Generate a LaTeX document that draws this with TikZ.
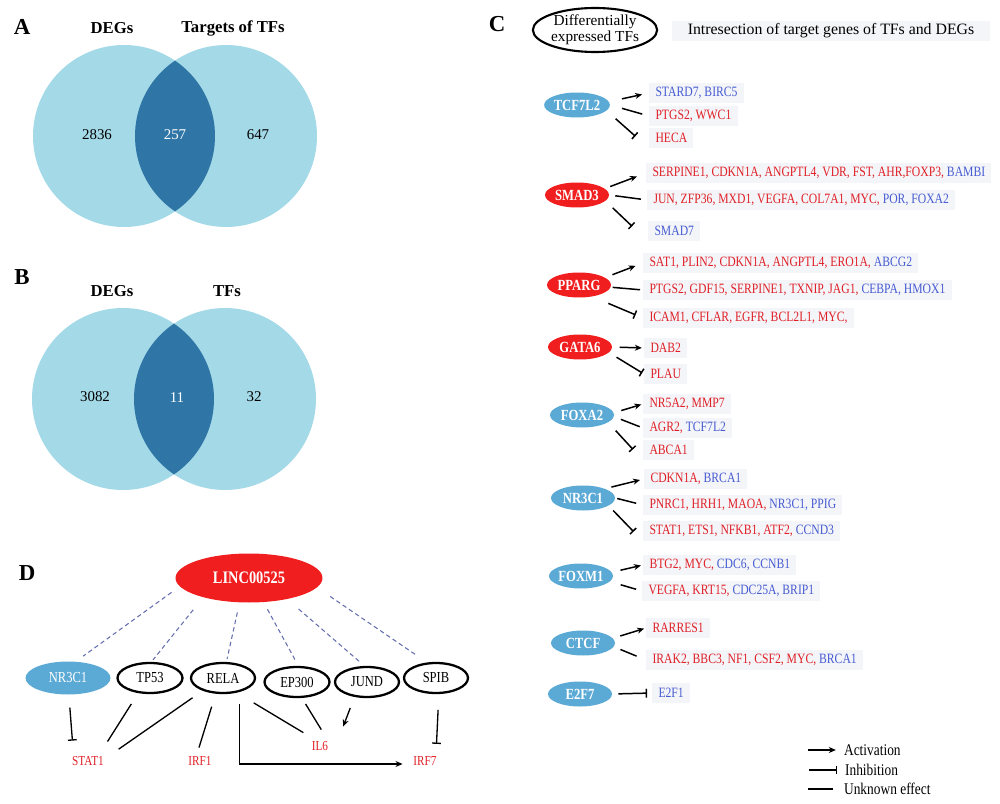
\documentclass[tikz,border=0pt]{standalone}
\usepackage{fontspec}
\setmainfont{Liberation Serif}
\newfontfamily\gfont[FakeStretch=0.82]{Liberation Serif}
\usetikzlibrary{arrows.meta,shapes.geometric}

\definecolor{venlight}{RGB}{164,217,231}
\definecolor{vendark}{RGB}{47,117,166}
\definecolor{tfblue}{RGB}{91,169,213}
\definecolor{tfred}{RGB}{240,30,30}
\definecolor{genered}{RGB}{224,32,40}
\definecolor{geneblue}{RGB}{72,92,210}
\definecolor{boxgray}{RGB}{243,245,248}
\definecolor{dashblue}{RGB}{100,110,175}

\newcommand{\bluegene}[1]{\textcolor{geneblue}{#1}}

\tikzset{
  panel/.style={font=\bfseries\fontsize{13}{13}\selectfont},
  venntitle/.style={font=\bfseries\fontsize{9.5}{9.5}\selectfont},
  vennnum/.style={font=\fontsize{8.5}{8.5}\selectfont},
  tf/.style={ellipse, inner sep=0pt, minimum width=1.28cm, minimum height=0.5cm,
    text=white, font=\gfont\bfseries\fontsize{8.8}{8.8}\selectfont},
  tfb/.style={tf, fill=tfblue},
  tfr/.style={tf, fill=tfred},
  target/.style={anchor=west, fill=boxgray, inner xsep=3.5pt, inner ysep=1pt,
    minimum height=0.4cm, text=genered, font=\gfont\fontsize{8.1}{8.1}\selectfont},
  act/.style={-{Stealth[length=4pt,width=3.4pt]}, line width=0.85pt},
  inh/.style={-{Bar[width=5pt]}, line width=0.85pt},
  unk/.style={line width=0.85pt},
  dline/.style={line width=0.75pt},
  dnode/.style={ellipse, draw, line width=1.3pt, inner sep=0pt, minimum width=1.28cm,
    minimum height=0.6cm, font=\gfont\fontsize{8.7}{8.7}\selectfont},
  dgene/.style={inner sep=2pt, text=genered, font=\gfont\fontsize{7.8}{7.8}\selectfont},
  link/.style={dashblue, line width=0.6pt, dash pattern=on 2.5pt off 1.8pt},
  legtext/.style={anchor=west, inner sep=1pt, font=\gfont\fontsize{9.3}{9.3}\selectfont},
}

\begin{document}
\begin{tikzpicture}[x=0.02cm, y=-0.02cm]
\useasboundingbox (0,0) rectangle (1000,804);

% A: DEGs and targets of TFs
\fill[venlight] (124,136) circle[radius=91];
\fill[venlight] (226,136) circle[radius=91];
\begin{scope}
  \clip (124,136) circle[radius=91];
  \fill[vendark] (226,136) circle[radius=91];
\end{scope}
\node[panel] (labA) at (22,27) {A};
\node[venntitle] (degA) at (112,28) {DEGs};
\node[venntitle] (tgtA) at (233,28) {Targets of TFs};
\node[vennnum] (numA1) at (97,135) {2836};
\node[vennnum, text=white] (numA2) at (175,135) {257};
\node[vennnum] (numA3) at (258,135) {647};

% B: DEGs and TFs
\fill[venlight] (123,399) circle[radius=91];
\fill[venlight] (225,399) circle[radius=91];
\begin{scope}
  \clip (123,399) circle[radius=91];
  \fill[vendark] (225,399) circle[radius=91];
\end{scope}
\node[panel] (labB) at (22,277) {B};
\node[venntitle] (degB) at (112,291) {DEGs};
\node[venntitle] (tfB) at (227,291) {TFs};
\node[vennnum] (numB1) at (95,397) {3082};
\node[vennnum, text=white] (numB2) at (177,398) {11};
\node[vennnum] (numB3) at (254,397) {32};

% C: TFs and their targets
\node[panel] (labC) at (497,24) {C};
\node[draw, ellipse, line width=1.2pt, minimum width=2.48cm, minimum height=0.88cm,
  inner sep=0pt, align=center, font=\fontsize{8.7}{7}\selectfont] (hdrtf) at (595,30)
  {Differentially\\expressed TFs};
\node[fill=boxgray, minimum width=6.38cm, minimum height=0.4cm, inner sep=0pt,
  font=\fontsize{9}{9}\selectfont] (hdrbox) at (831,31)
  {Intresection of target genes of TFs and DEGs};

\node[tfb] (tcf) at (577,105) {TCF7L2};
\node[target, text=geneblue] (tcf-1) at (649,93) {STARD7, BIRC5};
\node[target] (tcf-2) at (649,116) {PTGS2, WWC1};
\node[target] (tcf-3) at (649,138) {HECA};
\draw[act, shorten <=7.5pt, shorten >=4pt] (tcf.6) -- (tcf-1.west);
\draw[unk, shorten <=7pt, shorten >=4pt] (tcf.east) -- (tcf-2.west);
\draw[inh, shorten <=6.8pt, shorten >=10.4pt] (tcf.349) -- (tcf-3.south west);

\node[tfr] (smad) at (577,195) {SMAD3};
\node[target] (smad-1) at (646,173) {SERPINE1, CDKN1A, ANGPTL4, VDR, FST, AHR,FOXP3, \bluegene{BAMBI}};
\node[target] (smad-2) at (647,200) {JUN, ZFP36, MXD1, VEGFA, COL7A1, MYC, \bluegene{POR, FOXA2}};
\node[target, text=geneblue] (smad-3) at (648,231) {SMAD7};
\draw[act, shorten <=3.2pt, shorten >=5.5pt] (smad.13) -- (smad-1.west);
\draw[unk, shorten <=3.4pt, shorten >=3.5pt] (smad.east) -- (smad-2.west);
\draw[inh, shorten <=5.6pt, shorten >=12.5pt] (smad.348) -- (smad-3.south west);

\node[tfr] (pparg) at (579,285) {PPARG};
\node[target] (pparg-1) at (643,263) {SAT1, PLIN2, CDKN1A, ANGPTL4, ERO1A, \bluegene{ABCG2}};
\node[target] (pparg-2) at (643,290) {PTGS2, GDF15, SERPINE1, TXNIP, JAG1, \bluegene{CEBPA, HMOX1}};
\node[target] (pparg-3) at (643,318) {ICAM1, CFLAR, EGFR, BCL2L1, MYC,};
\draw[act, shorten <=4.4pt, shorten >=4.5pt] (pparg.16) -- (pparg-1.west);
\draw[unk, shorten <=1pt, shorten >=1.7pt] (pparg.-4) -- (pparg-2.west);
\draw[inh, shorten <=9.8pt, shorten >=4.6pt] (pparg.319) -- (pparg-3.west);

\node[tfr] (gata) at (580,347) {GATA6};
\node[target] (gata-1) at (644,348) {DAB2};
\node[target] (gata-2) at (644,374) {PLAU};
\draw[act, shorten <=4.2pt, shorten >=1.2pt] (gata.east) -- (gata-1.west);
\draw[inh, shorten <=5pt, shorten >=1.2pt] (gata.349) -- (gata-2.west);

\node[tfb] (foxa) at (582,415) {FOXA2};
\node[target] (foxa-1) at (643,404) {NR5A2, MMP7};
\node[target] (foxa-2) at (643,428) {AGR2, \bluegene{TCF7L2}};
\node[target] (foxa-3) at (643,450) {ABCA1};
\draw[act, shorten <=4.4pt, shorten >=1pt] (foxa.4) -- (foxa-1.west);
\draw[unk, shorten <=4.1pt, shorten >=2pt] (foxa.-3) -- (foxa-2.west);
\draw[inh, shorten <=6.3pt, shorten >=8.5pt] (foxa.344) -- (foxa-3.south west);

\node[tfb] (nrc) at (583,498) {NR3C1};
\node[target] (nrc-1) at (644,479) {CDKN1A, \bluegene{BRCA1}};
\node[target] (nrc-2) at (643,505) {PNRC1, HRH1, MAOA, \bluegene{NR3C1, PPIG}};
\node[target] (nrc-3) at (643,531) {STAT1, ETS1, NFKB1, ATF2, \bluegene{CCND3}};
\draw[act, shorten <=3.7pt, shorten >=2.3pt] (nrc.23) -- (nrc-1.west);
\draw[unk, shorten <=1.1pt, shorten >=4pt] (nrc.east) -- (nrc-2.west);
\draw[inh, shorten <=3.7pt, shorten >=7.7pt] (nrc.343) -- (nrc-3.south west);

\node[tfb] (foxm) at (581,576) {FOXM1};
\node[target] (foxm-1) at (643,565) {BTG2, MYC, \bluegene{CDC6, CCNB1}};
\node[target] (foxm-2) at (642,591) {VEGFA, KRT15, \bluegene{CDC25A, BRIP1}};
\draw[act, shorten <=5pt, shorten >=1.2pt] (foxm.7) -- (foxm-1.west);
\draw[unk, shorten <=6.3pt, shorten >=3.5pt] (foxm.349) -- (foxm-2.west);

\node[tfb] (ctcf) at (583,643) {CTCF};
\node[target] (ctcf-1) at (646,628) {RARRES1};
\node[target] (ctcf-2) at (646,660) {IRAK2, BBC3, NF1, CSF2, MYC, \bluegene{BRCA1}};
\draw[act, shorten <=4.3pt, shorten >=1.1pt] (ctcf.9) -- (ctcf-1.west);
\draw[unk, shorten <=4pt, shorten >=5.8pt] (ctcf.353) -- (ctcf-2.west);

\node[tfb] (e2f) at (580,694) {E2F7};
\node[target, text=geneblue] (e2f-1) at (652,693) {E2F1};
\draw[inh, shorten <=3.4pt, shorten >=2.8pt] (e2f.east) -- (e2f-1.west);

% legend
\node[legtext] (legact) at (842,750) {Activation};
\node[legtext] (leginh) at (843,770) {Inhibition};
\node[legtext] (legunk) at (842,789) {Unknown effect};
\coordinate (legA) at (808,750);
\coordinate (legI) at (809,770);
\coordinate (legU) at (808,789);
\draw[act, shorten >=3.5pt] (legA) -- (legact.west);
\draw[inh, shorten >=3.4pt] (legI) -- (leginh.west);
\draw[unk, shorten >=5pt] (legU) -- (legunk.west);

% D: LINC00525 network
\node[panel] (labD) at (27,573) {D};
\node[ellipse, fill=tfred, minimum width=2.94cm, minimum height=0.98cm, text=white,
  font=\gfont\bfseries\fontsize{10}{10}\selectfont] (linc) at (249,578) {LINC00525};
\node[dnode, draw=none, fill=tfblue, text=white, minimum width=1.7cm,
  minimum height=0.66cm] (nrd) at (68,678) {NR3C1};
\node[dnode, minimum width=1.3cm] (tp53) at (150,678) {TP53};
\node[dnode] (rela) at (223,678) {RELA};
\node[dnode, minimum width=1.3cm] (ep300) at (297,682) {EP300};
\node[dnode] (jund) at (367,682) {JUND};
\node[dnode] (spib) at (436,678) {SPIB};

\node[dgene] (stat1) at (88,761) {STAT1};
\node[dgene] (irf1) at (200,761) {IRF1};
\node[dgene] (il6) at (320,746) {IL6};
\node[dgene] (irf7) at (425,761) {IRF7};

\draw[link, shorten <=5.7pt, shorten >=4.5pt] (linc.187) -- (nrd.63);
\draw[link, shorten <=9pt, shorten >=1.5pt] (linc.203) -- (tp53.85);
\draw[link, shorten <=5.7pt, shorten >=1.7pt] (linc.249) -- (rela.78);
\draw[link, shorten <=4.5pt, shorten >=2.6pt] (linc.301) -- (ep300.85);
\draw[link, shorten <=8.5pt, shorten >=3.4pt] (linc.331) -- (jund.99);
\draw[link, shorten <=9pt, shorten >=6.8pt] (linc.352) -- (spib.120);

\draw[inh, dline, shorten <=6.8pt, shorten >=6.8pt] (nrd.273) -- (stat1.150);
\draw[unk, dline, shorten <=7.3pt, shorten >=7.4pt] (tp53.232) -- (stat1.34);
\draw[unk, dline, shorten <=7pt, shorten >=7.6pt] (rela.212) -- (stat1.12);
\draw[unk, dline, shorten <=7.7pt, shorten >=3pt] (rela.245) -- (irf1.107);
\draw[act, dline, shorten <=6.8pt, shorten >=4pt] (rela.319) |- ([yshift=-1.7pt]irf7.west);
\draw[unk, dline, shorten <=11.3pt, shorten >=5.4pt] (rela.313) -- (il6.135);
\draw[unk, dline, shorten <=4pt, shorten >=5.3pt] (ep300.287) -- (il6.54);
\draw[act, dline, shorten <=6.7pt, shorten >=6.7pt] (jund.230) -- ([xshift=4pt]il6.north east);
\draw[inh, dline, shorten <=9pt, shorten >=5pt] (spib.280) -- (irf7.37);
\end{tikzpicture}
\end{document}
